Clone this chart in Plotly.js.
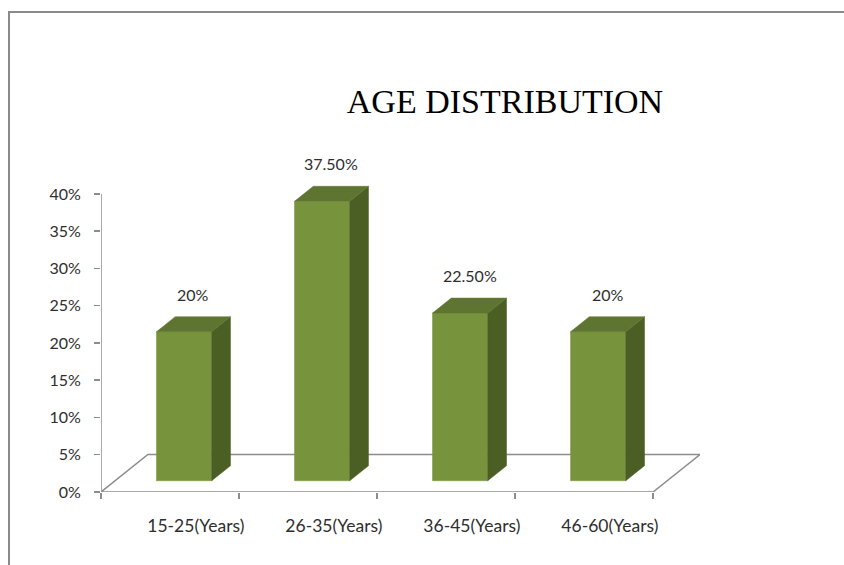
<!DOCTYPE html>
<html>
<head>
<meta charset="utf-8">
<script src="https://cdn.plot.ly/plotly-3.0.1.min.js"></script>
<style>
  html, body { margin: 0; padding: 0; background: #ffffff; overflow: hidden; }
  #wrap { position: relative; width: 844px; height: 565px; }
  #chart { position: absolute; left: 0; top: 0; width: 844px; height: 565px; }
  #frame { position: absolute; left: 8px; top: 11px; width: 900px; height: 600px;
           border-left: 2px solid #8a8a8a; border-top: 2px solid #8a8a8a; pointer-events: none; }
</style>
</head>
<body>
<div id="wrap">
  <div id="chart"></div>
  <div id="frame"></div>
</div>
<script>
// ---- data ----
const categories = ['15-25(Years)', '26-35(Years)', '36-45(Years)', '46-60(Years)'];
const values = [20, 37.5, 22.5, 20];
const valueLabels = ['20%', '37.50%', '22.50%', '20%'];
const yTickVals = [0, 5, 10, 15, 20, 25, 30, 35, 40];
const yTickText = ['0%', '5%', '10%', '15%', '20%', '25%', '30%', '35%', '40%'];
const chartTitle = 'AGE DISTRIBUTION';

// ---- 3D projection helpers (oblique) ----
const depthX = 0.34;   // depth offset in category units
const depthY = 5.03;   // depth offset in value units
const barHalf = 0.2;   // half bar width (gap width 150%)
const dFront = 0.3, dBack = 0.7; // bar depth span
const n = categories.length;
const xMin = -0.5, xMax = n - 0.5;

const FRONT = '#77933C', SIDE = '#4B5F25', TOP = '#5E7531';
const GRID = '#8c8c8c';
const TXT = '#2e2e2e';
const SANS = 'Lato, "Open Sans", sans-serif';

function poly(xs, ys, fill, line) {
  return {
    type: 'scatter', mode: 'lines', x: xs.concat([xs[0]]), y: ys.concat([ys[0]]),
    fill: 'toself', fillcolor: fill,
    line: {color: line || fill, width: line ? 1.5 : 0.5},
    hoverinfo: 'skip', showlegend: false, cliponaxis: false
  };
}

const traces = [];
// floor
traces.push(poly(
  [xMin, xMax, xMax + depthX, xMin + depthX],
  [0, 0, depthY, depthY], 'rgba(255,255,255,0)', GRID));
// y axis line
traces.push({type: 'scatter', mode: 'lines', x: [xMin, xMin],
  y: [yTickVals[0], yTickVals[yTickVals.length - 1]],
  line: {color: GRID, width: 1.5}, hoverinfo: 'skip', showlegend: false, cliponaxis: false});

const annotations = [];
values.forEach((v, i) => {
  const fx0 = i - barHalf + dFront * depthX, fx1 = i + barHalf + dFront * depthX;
  const fy0 = dFront * depthY, fy1 = v + dFront * depthY;
  const ex = (dBack - dFront) * depthX, ey = (dBack - dFront) * depthY;
  // front face
  traces.push(poly([fx0, fx1, fx1, fx0], [fy0, fy0, fy1, fy1], FRONT));
  // side face
  traces.push(poly([fx1, fx1 + ex, fx1 + ex, fx1], [fy0, fy0 + ey, fy1 + ey, fy1], SIDE));
  // top face
  traces.push(poly([fx0, fx1, fx1 + ex, fx0 + ex], [fy1, fy1, fy1 + ey, fy1 + ey], TOP));
  annotations.push({
    x: i + 0.5 * depthX, y: v + dBack * depthY, xref: 'x', yref: 'y',
    text: valueLabels[i], showarrow: false, yanchor: 'bottom', yshift: 11,
    font: {family: SANS, size: 16, color: TXT}
  });
});

const layout = {
  width: 844, height: 565,
  margin: {l: 101, r: 144, t: 179, b: 73, pad: 0},
  paper_bgcolor: '#ffffff', plot_bgcolor: '#ffffff',
  showlegend: false,
  title: {
    text: chartTitle, x: 505 / 844, xanchor: 'center', xref: 'container',
    y: 1 - 101 / 565, yanchor: 'middle', yref: 'container',
    font: {family: '"Liberation Serif", "Times New Roman", serif', size: 34, color: '#000000'}
  },
  xaxis: {
    range: [xMin, xMax + depthX], showgrid: false, zeroline: false, showline: false,
    tickmode: 'array', tickvals: categories.map((c, i) => i + 0.55 * depthX), ticktext: categories,
    ticks: '', ticklabelstandoff: 21,
    minor: {tickmode: 'array', tickvals: categories.map((c, i) => i - 0.5).concat([xMax]),
            ticks: 'outside', ticklen: 6, tickcolor: GRID, tickwidth: 1.5, showgrid: false},
    tickfont: {family: SANS, size: 17.5, color: TXT},
    fixedrange: true
  },
  yaxis: {
    range: [0, 42], showgrid: false, zeroline: false, showline: false,
    tickmode: 'array', tickvals: yTickVals, ticktext: yTickText,
    ticks: 'outside', ticklen: 6, tickcolor: GRID, tickwidth: 1.5,
    ticklabelstandoff: 10,
    tickfont: {family: SANS, size: 16, color: TXT},
    fixedrange: true
  },
  annotations: annotations
};

Plotly.newPlot('chart', traces, layout, {displayModeBar: false, staticPlot: true});
</script>
</body>
</html>
